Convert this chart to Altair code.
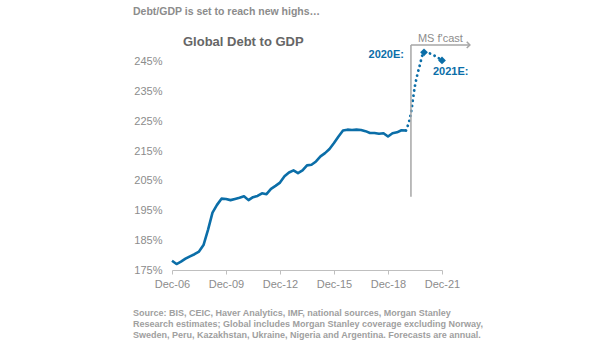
import altair as alt
import pandas as pd

# Quarterly Global Debt to GDP (%), Dec-06 .. Dec-19 (quarter index 0..52)
hist_values = [178.1, 177.0, 177.8, 178.8, 179.6, 180.3, 181.2, 183.4, 188.5, 194.3,
               196.9, 199.0, 198.9, 198.5, 198.9, 199.3, 199.8, 198.5, 199.5, 199.9,
               200.8, 200.5, 202.3, 203.3, 204.4, 206.5, 207.8, 208.5, 207.6, 208.5,
               210.2, 210.4, 211.5, 213.2, 214.3, 215.7, 217.7, 219.9, 221.9, 222.2,
               222.1, 222.2, 222.1, 221.7, 221.1, 221.1, 220.8, 221.0, 219.9, 221.0,
               221.3, 222.0, 221.9]
# Forecast path (quarter index, value)
fc_quarters = [52, 53, 54, 55, 56, 60]
fc_values = [221.9, 227.0, 237.0, 243.5, 248.2, 245.5]
# Year-end estimates
est_labels = ["2020E:", "2021E:"]
est_quarters = [56, 60]
est_values = [248.2, 245.5]
# Axis
x_tick_labels = ["Dec-06", "Dec-09", "Dec-12", "Dec-15", "Dec-18", "Dec-21"]
y_ticks = [175, 185, 195, 205, 215, 225, 235, 245]
# forecast marker
fcast_start_q = 53.1
fcast_end_q = 66.2
fcast_low = 199.6
fcast_high = 250.7

title_text = "Debt/GDP is set to reach new highs…"
chart_title = "Global Debt to GDP"
source_lines = [
    "Source: BIS, CEIC, Haver Analytics, IMF, national sources, Morgan Stanley",
    "Research estimates; Global includes Morgan Stanley coverage excluding Norway,",
    "Sweden, Peru, Kazakhstan, Ukraine, Nigeria and Argentina. Forecasts are annual.",
]

BLUE = "#0b6ea8"
GRAY = "#a6a6a6"
TXT = "#8c8c8c"
FONT = "Liberation Sans"

hist = pd.DataFrame({"q": list(range(len(hist_values))), "v": hist_values})
fc = pd.DataFrame({"q": fc_quarters, "v": fc_values})
est = pd.DataFrame({"q": est_quarters, "v": est_values, "label": est_labels})

label_arr = "[" + ",".join("'%s'" % s for s in x_tick_labels) + "]"

x_scale = alt.Scale(domain=[0, 60], nice=False, zero=False)
y_scale = alt.Scale(domain=[175, 250], nice=False, zero=False)

x_axis = alt.Axis(values=[0, 12, 24, 36, 48, 60], labelExpr=label_arr + "[round(datum.value/12)]",
                  title=None, grid=False, domainColor="#bfbfbf", tickColor="#bfbfbf",
                  tickSize=4, labelColor=TXT, labelFont=FONT, labelFontSize=11,
                  labelPadding=4, domainWidth=1.2, labelFlush=False, labelOverlap=False)
y_axis = alt.Axis(values=y_ticks, labelExpr="datum.value + '%'", title=None, grid=False,
                  domain=False, ticks=False, labelColor=TXT, labelFont=FONT,
                  labelFontSize=11, labelPadding=10, labelFlush=False, labelOverlap=False)

X = alt.X("q:Q", scale=x_scale, axis=x_axis)
Y = alt.Y("v:Q", scale=y_scale, axis=y_axis)

line = alt.Chart(hist).mark_line(color=BLUE, strokeWidth=2.6, strokeJoin="round").encode(x=X, y=Y)

fc_line = alt.Chart(fc).mark_line(color=BLUE, strokeWidth=2.8, strokeDash=[0.1, 5],
                                  strokeCap="round", interpolate="monotone", clip=False).encode(x=X, y=Y)

pts = alt.Chart(est).mark_point(shape="diamond", filled=True, color=BLUE, size=60,
                                opacity=1, clip=False).encode(x=X, y=Y)

lab1 = alt.Chart(est.iloc[[0]]).mark_text(align="right", baseline="middle", dx=-20, dy=3,
                                          font=FONT, fontSize=11, fontWeight="bold",
                                          color=BLUE).encode(x=X, y=Y, text="label:N")
lab2 = alt.Chart(est.iloc[[1]]).mark_text(align="left", baseline="middle", dx=-9, dy=12,
                                          font=FONT, fontSize=11, fontWeight="bold",
                                          color=BLUE).encode(x=X, y=Y, text="label:N")

marker_df = pd.DataFrame({"q": [fcast_start_q, fcast_start_q], "q2": [fcast_start_q, fcast_end_q],
                          "v": [fcast_low, fcast_high], "v2": [fcast_high, fcast_high]})
marker = alt.Chart(marker_df).mark_rule(color=GRAY, strokeWidth=1.5, clip=False).encode(
    x=X, x2="q2:Q", y=Y, y2="v2:Q")
head = alt.Chart(pd.DataFrame({"q": [fcast_end_q], "v": [fcast_high]})).mark_point(
    shape="M -1 -1 L 0 0 L -1 1", filled=False, color=GRAY, strokeWidth=1.5, size=40,
    opacity=1, clip=False).encode(x=X, y=Y)
fcast_txt = alt.Chart(pd.DataFrame({"q": [fcast_start_q], "v": [fcast_high], "t": ["MS f'cast"]})).mark_text(
    align="left", baseline="middle", dx=7, dy=-6, font=FONT, fontSize=11, color=TXT).encode(
    x=X, y=Y, text="t:N")

title = alt.Chart(pd.DataFrame({"t": [title_text]})).mark_text(
    align="left", baseline="middle", font=FONT, fontSize=10.5, fontWeight="bold", color="#8c8c8c").encode(
    x=alt.value(-39), y=alt.value(-35), text="t:N")
subtitle = alt.Chart(pd.DataFrame({"t": [chart_title]})).mark_text(
    align="left", baseline="middle", font=FONT, fontSize=13, fontWeight="bold", color="#666666").encode(
    x=alt.value(11), y=alt.value(-5), text="t:N")

src_layers = []
for i, s in enumerate(source_lines):
    src_layers.append(alt.Chart(pd.DataFrame({"t": [s]})).mark_text(
        align="left", baseline="middle", font=FONT, fontSize=9, fontWeight="bold",
        color="#a0a0a0").encode(x=alt.value(-39), y=alt.value(266 + 11 * i), text="t:N"))

chart = alt.layer(line, fc_line, marker, head, fcast_txt, pts, lab1, lab2, title, subtitle,
                  *src_layers).properties(
    width=270, height=223,
    autosize=alt.AutoSizeParams(type="none"),
    padding={"left": 172, "top": 47, "right": 163, "bottom": 71},
).configure_view(stroke=None).configure_axis(labelOverlap=False, labelFlush=False)

chart.save("out.html", embed_options={"renderer": "svg", "actions": False})
